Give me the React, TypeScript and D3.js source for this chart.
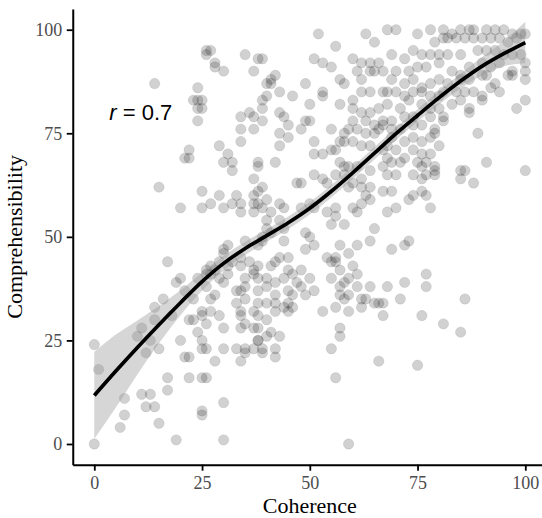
import React, { useRef, useEffect } from 'react'
import * as d3 from 'd3'

const lowLeft: [number, number][] = [
  [0, 24], [1, 18], [0, 0], [7, 11], [7, 7], [6, 4], [11, 12], [13, 12], [12, 9], [14, 9],
  [15, 5], [19, 1], [17, 16], [17, 13], [17, 44], [11, 28], [10, 26], [13, 25], [12, 22], [15, 23],
  [14, 33], [16, 35], [14, 30], [19, 39], [20, 40], [18, 31], [22, 30], [20, 25], [22, 21], [21, 21],
  [22, 16], [25, 16], [26, 16], [25, 8], [25, 7], [30, 1], [30, 10], [28, 20], [30, 23], [25, 25],
  [25, 23], [26, 23], [30, 28], [24, 27], [26, 29], [23, 30], [25, 31], [25, 32], [27, 32], [29, 31],
  [27, 35], [23, 35], [26, 38], [30, 39], [27, 41], [26, 42], [28, 42], [29, 44], [30, 46], [21, 37],
  [24, 40], [26, 41], [28, 36], [29, 40], [27, 43], [30, 47], [31, 48]
]

const upLeft: [number, number][] = [
  [26, 95], [27, 95], [26, 94], [28, 92], [28, 91], [30, 90], [14, 87], [24, 86], [23, 83], [24, 83],
  [25, 83], [24, 81], [25, 81], [24, 78], [22, 71], [21, 69], [22, 69], [29, 72], [31, 70], [30, 68],
  [32, 66], [15, 62], [25, 61], [29, 60], [27, 58], [25, 57], [30, 57], [20, 57]
]

const upMid: [number, number][] = [
  [52, 99], [63, 99], [56, 96], [65, 97], [35, 94], [38, 93], [39, 93], [37, 90], [42, 89], [41, 88],
  [40, 87], [41, 87], [51, 93], [53, 92], [55, 91], [60, 93], [62, 92], [64, 92], [66, 92], [67, 90],
  [61, 90], [64, 90], [65, 90], [49, 87], [57, 88], [58, 87], [62, 88], [62, 85], [64, 85], [67, 85],
  [40, 84], [43, 85], [46, 84], [39, 83], [39, 81], [53, 85], [53, 84], [50, 82], [57, 82], [60, 83],
  [34, 79], [36, 80], [37, 79], [39, 78], [43, 80], [44, 79], [45, 77], [49, 78], [50, 78], [48, 76],
  [34, 76], [37, 76], [34, 73], [43, 75], [43, 72], [45, 74], [51, 73], [51, 70], [53, 70], [55, 71],
  [56, 71], [55, 76], [58, 75], [59, 76], [60, 81], [62, 80], [64, 80], [66, 81], [67, 78], [60, 78],
  [63, 78], [65, 77], [67, 77], [61, 76], [63, 75], [65, 75], [57, 73], [58, 73], [60, 73], [62, 72],
  [64, 72], [67, 71], [32, 68], [38, 68], [38, 67], [42, 68], [37, 64], [39, 62], [38, 61], [47, 63],
  [48, 63], [51, 65], [53, 64], [54, 63], [57, 68], [58, 67], [59, 67], [61, 67], [64, 66], [67, 67],
  [56, 65], [58, 65], [59, 62], [62, 62], [64, 62], [60, 63], [62, 64], [33, 60], [32, 58], [34, 58],
  [37, 60], [37, 58], [38, 58], [40, 59], [34, 56], [37, 56], [39, 57], [41, 56], [43, 58], [44, 57],
  [40, 54], [43, 54], [50, 58], [51, 57], [48, 57], [54, 56], [56, 57], [56, 55], [58, 53], [60, 57],
  [61, 56], [63, 60], [64, 59], [62, 58], [55, 53], [65, 52], [64, 49], [57, 48], [49, 51], [50, 50],
  [44, 49], [44, 52], [40, 52], [35, 49], [39, 50], [41, 51]
]

const upRight: [number, number][] = [
  [68, 100], [70, 100], [75, 99], [78, 100], [81, 100], [83, 99], [85, 100], [87, 100], [88, 100], [91, 100],
  [93, 100], [95, 100], [97, 99], [99, 99], [100, 99], [79, 97], [81, 98], [82, 98], [84, 98], [86, 98],
  [88, 98], [90, 98], [92, 98], [94, 98], [96, 97], [98, 98], [69, 94], [74, 95], [72, 93], [76, 94],
  [78, 94], [80, 94], [82, 94], [85, 94], [89, 95], [91, 95], [93, 95], [95, 94], [97, 94], [99, 94],
  [70, 90], [73, 90], [75, 91], [77, 91], [80, 92], [83, 90], [85, 89], [87, 91], [90, 92], [92, 91],
  [94, 92], [97, 90], [100, 92], [100, 90], [69, 88], [72, 87], [74, 88], [76, 86], [78, 87], [80, 88],
  [82, 87], [85, 88], [87, 88], [90, 89], [91, 89], [93, 87], [96, 89], [97, 89], [100, 88], [68, 85],
  [70, 85], [72, 84], [74, 85], [76, 85], [78, 84], [80, 84], [81, 85], [84, 85], [86, 85], [88, 85],
  [90, 84], [92, 86], [94, 85], [100, 83], [98, 81], [68, 82], [71, 81], [73, 83], [76, 82], [78, 81],
  [80, 81], [83, 82], [85, 83], [87, 81], [90, 83], [87, 80], [69, 78], [72, 79], [74, 79], [76, 77],
  [78, 79], [81, 79], [81, 78], [66, 76], [69, 76], [71, 76], [74, 77], [79, 76], [79, 75], [80, 72],
  [78, 74], [89, 75], [69, 74], [72, 73], [74, 74], [76, 73], [68, 72], [70, 71], [72, 69], [74, 71],
  [76, 70], [78, 70], [77, 68], [68, 69], [69, 68], [71, 68], [75, 68], [76, 67], [79, 67], [79, 66],
  [68, 65], [70, 65], [74, 65], [76, 64], [77, 65], [79, 65], [67, 61], [69, 61], [70, 57], [73, 59],
  [74, 60], [76, 61], [77, 60], [78, 57], [68, 56], [85, 66], [86, 66], [85, 64], [88, 63], [91, 68],
  [100, 66], [73, 49], [69, 47]
]

const lowMid: [number, number][] = [
  [38, 48], [39, 49], [32, 44], [34, 45], [34, 43], [36, 44], [37, 42], [38, 43], [41, 43], [42, 44],
  [43, 45], [45, 45], [45, 42], [35, 40], [37, 41], [38, 40], [40, 40], [42, 39], [44, 40], [46, 41],
  [47, 39], [33, 37], [34, 37], [35, 38], [38, 37], [40, 38], [42, 36], [45, 37], [46, 36], [33, 34],
  [34, 32], [35, 35], [38, 34], [40, 34], [42, 34], [45, 34], [46, 33], [34, 31], [35, 29], [37, 32],
  [38, 31], [40, 30], [42, 32], [45, 32], [34, 28], [37, 28], [38, 28], [41, 27], [42, 23], [38, 25],
  [40, 26], [35, 23], [37, 23], [39, 23], [34, 20], [35, 22], [43, 26], [31, 41], [31, 43], [38, 25],
  [42, 21], [39, 22], [33, 23],
  [49, 47], [51, 48], [59, 46], [61, 48], [54, 45], [56, 45], [55, 44], [57, 42], [56, 44], [60, 43],
  [61, 41], [59, 40], [58, 39], [55, 40], [57, 38], [59, 36], [57, 36], [58, 35], [61, 38], [64, 38],
  [62, 35], [62, 33], [65, 34], [66, 34], [53, 32], [56, 33], [59, 32], [67, 31], [57, 28], [57, 26],
  [55, 23], [56, 16], [59, 0], [66, 20], [48, 42], [50, 40], [48, 38], [49, 36], [51, 37], [44, 33]
]

const lowRight: [number, number][] = [
  [72, 48], [68, 38], [72, 39], [77, 41], [77, 38], [71, 35], [67, 34], [76, 31], [81, 29], [85, 27],
  [86, 35], [75, 19], [63, 35]
]

const points = [...lowLeft, ...upLeft, ...upMid, ...upRight, ...lowMid, ...lowRight]

// loess fit
const fitX = [0, 5, 10, 15, 20, 25, 30, 35, 40, 45, 50, 55, 60, 65, 70, 75, 80, 85, 90, 95, 100]
const fitY = [11.7, 17.6, 23.3, 28.8, 34.1, 39.2, 43.6, 47.2, 50.3, 53.4, 56.9, 61, 65.5, 70.2, 74.9, 79.3, 83.6, 87.6, 91.2, 94.2, 96.9]
const fitSe = [10.5, 8.8, 6.5, 4.5, 3, 2.2, 1.8, 1.6, 1.5, 1.5, 1.5, 1.5, 1.5, 1.5, 1.5, 1.5, 1.6, 1.8, 2.2, 3, 5]

const xTicks = [0, 25, 50, 75, 100]
const yTicks = [0, 25, 50, 75, 100]

const App = () => {
  const svgRef = useRef<SVGSVGElement>(null)
  const width = 542
  const height = 518

  useEffect(() => {
    const xScale = d3.scaleLinear().domain([-5, 105]).range([72.75, 546.85])
    const yScale = d3.scaleLinear().domain([-5, 105]).range([464.7, 9])

    const svg = d3.select(svgRef.current)
    svg.selectAll('*').remove()

    // points
    svg
      .append('g')
      .selectAll('circle')
      .data(points)
      .enter()
      .append('circle')
      .attr('cx', d => xScale(d[0]))
      .attr('cy', d => yScale(d[1]))
      .attr('r', 5.2)
      .attr('fill', 'rgba(0,0,0,0.18)')
      .attr('stroke', 'rgba(0,0,0,0.08)')
      .attr('stroke-width', 1)

    const fit = fitX.map((x, i) => ({ x, y: fitY[i], se: fitSe[i] }))

    const band = d3
      .area<{ x: number; y: number; se: number }>()
      .x(d => xScale(d.x))
      .y0(d => yScale(d.y - d.se))
      .y1(d => yScale(d.y + d.se))
      .curve(d3.curveCatmullRom)

    svg
      .append('path')
      .attr('d', band(fit))
      .attr('fill', '#999999')
      .attr('fill-opacity', 0.4)

    const line = d3
      .line<{ x: number; y: number }>()
      .x(d => xScale(d.x))
      .y(d => yScale(d.y))
      .curve(d3.curveCatmullRom)

    svg
      .append('path')
      .attr('d', line(fit))
      .attr('fill', 'none')
      .attr('stroke', '#000')
      .attr('stroke-width', 3.7)

    // axes
    const xAxis = d3.axisBottom(xScale).tickValues(xTicks).tickSize(6).tickSizeOuter(0).tickPadding(6)
    const xAxisGroup = svg.append('g').attr('transform', `translate(0,${yScale(-5)})`).call(xAxis)
    xAxisGroup.select('.domain').attr('stroke-width', 2)
    xAxisGroup.selectAll('line').attr('stroke-width', 1.8)
    xAxisGroup
      .selectAll('text')
      .attr('fill', '#4d4d4d')
      .attr('font-family', '"Liberation Serif", "Times New Roman", serif')
      .attr('font-size', 18)

    const yAxis = d3.axisLeft(yScale).tickValues(yTicks).tickSize(6).tickSizeOuter(0).tickPadding(4.5)
    const yAxisGroup = svg.append('g').attr('transform', `translate(${xScale(-5)},0)`).call(yAxis)
    yAxisGroup.select('.domain').attr('stroke-width', 2)
    yAxisGroup.selectAll('line').attr('stroke-width', 1.8)
    yAxisGroup
      .selectAll('text')
      .attr('fill', '#4d4d4d')
      .attr('font-family', '"Liberation Serif", "Times New Roman", serif')
      .attr('font-size', 18)

    // titles
    svg
      .append('text')
      .attr('x', xScale(50))
      .attr('y', 513)
      .attr('text-anchor', 'middle')
      .attr('font-family', '"Liberation Serif", "Times New Roman", serif')
      .attr('font-size', 22)
      .attr('fill', '#000')
      .text('Coherence')

    svg
      .append('text')
      .attr('transform', `translate(22,${yScale(50)}) rotate(-90)`)
      .attr('text-anchor', 'middle')
      .attr('font-family', '"Liberation Serif", "Times New Roman", serif')
      .attr('font-size', 22)
      .attr('fill', '#000')
      .text('Comprehensibility')

    // correlation label
    const label = svg
      .append('text')
      .attr('x', xScale(10.8))
      .attr('y', yScale(80))
      .attr('dy', '0.35em')
      .attr('text-anchor', 'middle')
      .attr('font-family', '"Liberation Sans", Arial, sans-serif')
      .attr('font-size', 22)
      .attr('fill', '#000')
    label.append('tspan').attr('font-style', 'italic').text('r')
    label.append('tspan').text(' = 0.7')
  }, [])

  return (
    <svg
      ref={svgRef}
      width={width}
      height={height}
      style={{ position: 'absolute', left: 0, top: 0, background: '#fff' }}
    />
  )
}

export default App
